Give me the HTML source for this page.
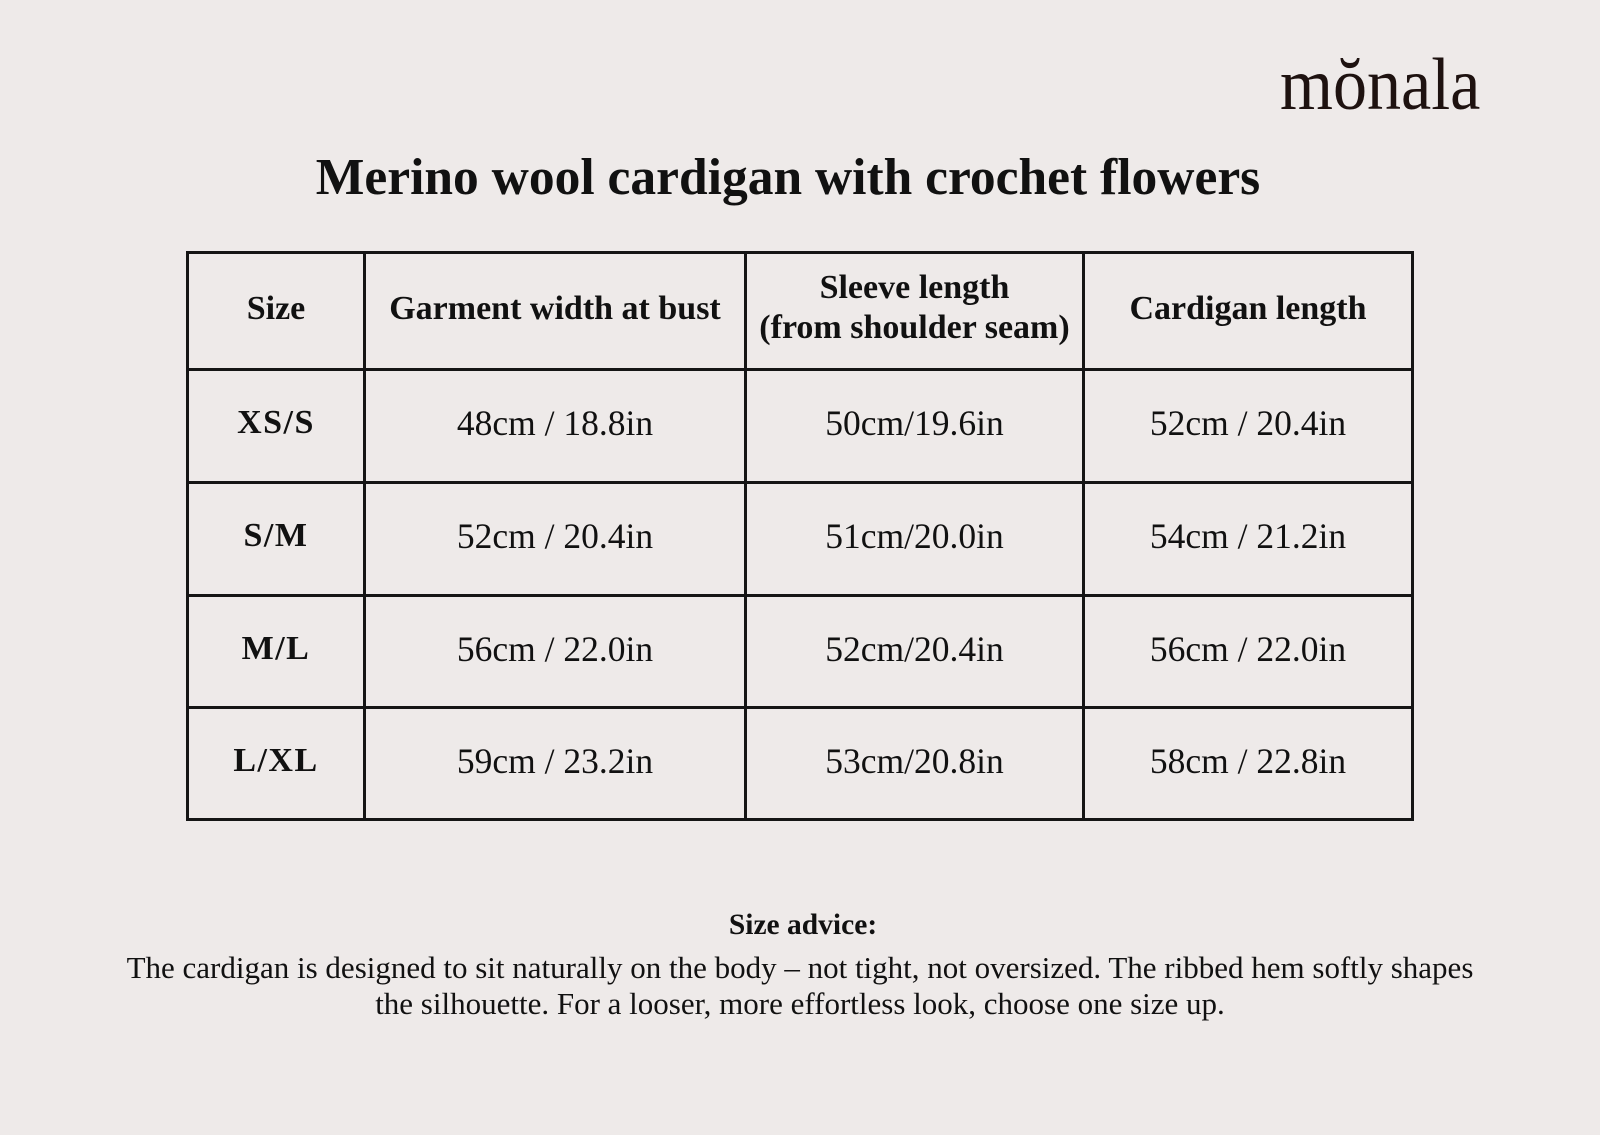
<!DOCTYPE html>
<html>
<head>
<meta charset="utf-8">
<style>
  html, body { margin:0; padding:0; }
  body { width:1600px; height:1135px; background:#eeeae9; position:relative; overflow:hidden;
         font-family:"Liberation Serif", serif; color:#111; }
  .abs { position:absolute; }
  .logo { left:1280px; top:45px; height:80px; font-size:74px; color:#1e1210;
          line-height:80px; white-space:nowrap; transform-origin:left center; transform:scaleX(0.92); }
  .title { left:0; width:1576px; top:148px; text-align:center; font-weight:bold; font-size:51.5px; line-height:60px; white-space:nowrap; }
  .hl { position:absolute; height:3px; background:#151515; }
  .vl { position:absolute; width:3px; background:#151515; }
  .cell { position:absolute; display:flex; align-items:center; justify-content:center; text-align:center;
          font-size:34px; line-height:40px; white-space:nowrap; box-sizing:border-box; padding-bottom:6px; }
  .v { font-size:35.5px; }
  .b { font-weight:bold; }
  .sz { letter-spacing:1.5px; }
  .adv { left:0; width:1606px; top:907px; text-align:center; font-weight:bold; font-size:29.5px; line-height:36px; }
  .para { left:60px; width:1480px; top:950px; text-align:center; font-size:31px; line-height:36px; white-space:nowrap; }
</style>
</head>
<body>
  <div class="abs logo">mŏnala</div>
  <div class="abs title">Merino wool cardigan with crochet flowers</div>

  <!-- horizontal lines -->
  <div class="hl" style="left:186px;width:1228px;top:251px;"></div>
  <div class="hl" style="left:186px;width:1228px;top:368px;"></div>
  <div class="hl" style="left:186px;width:1228px;top:481px;"></div>
  <div class="hl" style="left:186px;width:1228px;top:594px;"></div>
  <div class="hl" style="left:186px;width:1228px;top:706px;"></div>
  <div class="hl" style="left:186px;width:1228px;top:818px;"></div>
  <!-- vertical lines -->
  <div class="vl" style="top:251px;height:570px;left:186px;"></div>
  <div class="vl" style="top:251px;height:570px;left:363px;"></div>
  <div class="vl" style="top:251px;height:570px;left:744px;"></div>
  <div class="vl" style="top:251px;height:570px;left:1082px;"></div>
  <div class="vl" style="top:251px;height:570px;left:1411px;"></div>

  <!-- header -->
  <div class="cell b" style="left:189px;width:174px;top:254px;height:114px;padding-bottom:5px;">Size</div>
  <div class="cell b" style="left:366px;width:378px;top:254px;height:114px;padding-bottom:5px;">Garment width at bust</div>
  <div class="cell b" style="left:747px;width:335px;top:254px;height:114px;padding-bottom:7px;">Sleeve length<br>(from shoulder seam)</div>
  <div class="cell b" style="left:1085px;width:326px;top:254px;height:114px;padding-bottom:5px;">Cardigan length</div>

  <!-- row 1 -->
  <div class="cell b sz" style="left:189px;width:174px;top:371px;height:110px;">XS/S</div>
  <div class="cell v" style="left:366px;width:378px;top:371px;height:110px;">48cm / 18.8in</div>
  <div class="cell v" style="left:747px;width:335px;top:371px;height:110px;">50cm/19.6in</div>
  <div class="cell v" style="left:1085px;width:326px;top:371px;height:110px;">52cm / 20.4in</div>

  <!-- row 2 -->
  <div class="cell b sz" style="left:189px;width:174px;top:484px;height:110px;">S/M</div>
  <div class="cell v" style="left:366px;width:378px;top:484px;height:110px;">52cm / 20.4in</div>
  <div class="cell v" style="left:747px;width:335px;top:484px;height:110px;">51cm/20.0in</div>
  <div class="cell v" style="left:1085px;width:326px;top:484px;height:110px;">54cm / 21.2in</div>

  <!-- row 3 -->
  <div class="cell b sz" style="left:189px;width:174px;top:597px;height:109px;">M/L</div>
  <div class="cell v" style="left:366px;width:378px;top:597px;height:109px;">56cm / 22.0in</div>
  <div class="cell v" style="left:747px;width:335px;top:597px;height:109px;">52cm/20.4in</div>
  <div class="cell v" style="left:1085px;width:326px;top:597px;height:109px;">56cm / 22.0in</div>

  <!-- row 4 -->
  <div class="cell b sz" style="left:189px;width:174px;top:709px;height:109px;">L/XL</div>
  <div class="cell v" style="left:366px;width:378px;top:709px;height:109px;">59cm / 23.2in</div>
  <div class="cell v" style="left:747px;width:335px;top:709px;height:109px;">53cm/20.8in</div>
  <div class="cell v" style="left:1085px;width:326px;top:709px;height:109px;">58cm / 22.8in</div>

  <div class="abs adv">Size advice:</div>
  <div class="abs para">The cardigan is designed to sit naturally on the body – not tight, not oversized. The ribbed hem softly shapes<br>the silhouette. For a looser, more effortless look, choose one size up.</div>
</body>
</html>
